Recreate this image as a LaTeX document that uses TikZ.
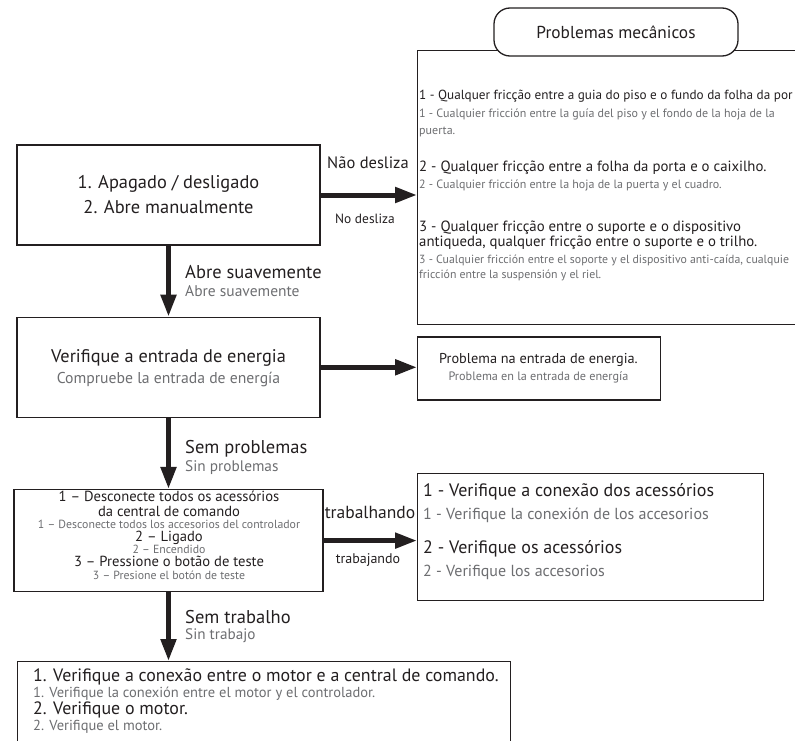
\documentclass[tikz,border=0pt]{standalone}
\usepackage{fontspec}
\setmainfont{PT Sans}
\usetikzlibrary{arrows.meta,positioning}
\definecolor{InkBlack}{HTML}{231F20}
\definecolor{InkGray}{HTML}{6D6E71}
\newcommand\setfs[1]{\fontsize{#1}{#1}\selectfont}

\begin{document}
\begin{tikzpicture}[x=1pt,y=-1pt,
    box/.style={draw=InkBlack,line width=1.3pt,fill=white,inner sep=0pt},
    flow/.style={-{Triangle[length=22pt,width=15pt]},InkBlack,line width=5pt},
    ptline/.style={text=InkBlack,inner sep=0pt},
    esline/.style={text=InkGray,inner sep=0pt},
    ptleft/.style={ptline,anchor=west},
    esleft/.style={esline,anchor=west}]
  \useasboundingbox (0,0) rectangle (795,741);
  \clip (0,0) rectangle (795,741);

  % main column
  \node[box,minimum width=303pt,minimum height=100pt] (apagado) at (168.5,195) {};
  \node[box,minimum width=303pt,minimum height=100pt,below=71pt of apagado] (energia) {};
  \node[box,minimum width=309pt,minimum height=102pt,below=71pt of energia] (acess) {};
  \node[box,minimum width=493pt,minimum height=120pt,anchor=north west] (motor) at (17,661) {};

  % right column
  \node[box,minimum width=450pt,minimum height=274pt,anchor=north west] (mecan) at (417,50) {};
  \node[box,rounded corners=16pt,minimum width=244pt,minimum height=48pt] (mecanTit) at (616,32)
    {\setfs{17.3}\color{InkBlack}Problemas mecânicos};
  \node[box,minimum width=243pt,minimum height=63pt,anchor=west] (falha) at (417,368.5) {};
  \node[box,minimum width=346pt,minimum height=127pt,anchor=west] (conex) at (417,537) {};

  % connectors
  \draw[flow] (apagado.east) -- (mecan.west |- apagado.east);
  \draw[flow] (apagado) -- (energia);
  \draw[flow] (energia.east) -- (falha.west |- energia.east);
  \draw[flow] (energia) -- (acess);
  \draw[flow] (acess.east) -- (conex.west |- acess.east);
  \draw[flow] (acess.south) -- (acess.south |- motor.north);

  % connector labels
  \node[ptline] (naoDesl) at (368,163) {\setfs{16.5}Não desliza};
  \node[ptline] (noDesl) at (365,219) {\setfs{13.4}No desliza};
  \node[ptleft] (abrePt) at (185,272) {\setfs{18.5}Abre suavemente};
  \node[esleft] (abreEs) at (185,291) {\setfs{15.5}Abre suavemente};
  \node[ptleft] (semProbPt) at (185,449) {\setfs{18.5}Sem problemas};
  \node[esleft] (semProbEs) at (185,467.5) {\setfs{15.3}Sin problemas};
  \node[ptleft] (semTrabPt) at (185,617) {\setfs{18.5}Sem trabalho};
  \node[esleft] (semTrabEs) at (185,636) {\setfs{15.2}Sin trabajo};
  \node[ptline] (trabPt) at (370,512) {\setfs{17.5}trabalhando};
  \node[ptline] (trabEs) at (368,560) {\setfs{14}trabajando};

  % box texts
  \node[ptline,align=center,font=\fontsize{18.4}{25}\selectfont] (apagadoTxt) at (apagado)
    {1. Apagado / desligado\\2. Abre manualmente};
  \node[ptline] (energiaPt) at (168.5,358) {\setfs{18.3}Verifique a entrada de energia};
  \node[esline] (energiaEs) at (168.5,380) {\setfs{15.7}Compruebe la entrada de energía};

  \node[ptline] (acessPt1) at (169,496) {\setfs{14.6}1 – Desconecte todos os acessórios};
  \node[ptline] (acessPt1b) at (169,511) {\setfs{14.6}da central de comando};
  \node[esline] (acessEs1) at (169,524.5) {\setfs{11.8}1 – Desconecte todos los accesorios del controlador};
  \node[ptline] (acessPt2) at (169,537.5) {\setfs{14.6}2 – Ligado};
  \node[esline] (acessEs2) at (169,549.5) {\setfs{11.8}2 – Encendido};
  \node[ptline] (acessPt3) at (169,561.5) {\setfs{14.6}3 – Pressione o botão de teste};
  \node[esline] (acessEs3) at (169,575) {\setfs{11.8}3 – Presione el botón de teste};

  \node[ptline] (falhaPt) at (538.5,360) {\setfs{14.3}Problema na entrada de energia.};
  \node[esline] (falhaEs) at (538.5,377) {\setfs{12.2}Problema en la entrada de energía};

  \node[ptleft] (conexPt1) at (423,492) {\setfs{18}1 - Verifique a conexão dos acessórios};
  \node[esleft] (conexEs1) at (423,515) {\setfs{16}1 - Verifique la conexión de los accesorios};
  \node[ptleft] (conexPt2) at (423,549) {\setfs{18}2 - Verifique os acessórios};
  \node[esleft] (conexEs2) at (423,572) {\setfs{16}2 - Verifique los accesorios};

  \node[ptleft] (mecanPt1) at (419,96) {\setfs{13.2}1 - Qualquer fricção entre a guia do piso e o fundo da folha da por};
  \node[esleft,align=left,font=\fontsize{12}{17}\selectfont] (mecanEs1) at (419,123)
    {1 - Cualquier fricción entre la guía del piso y el fondo de la hoja de la\\puerta.};
  \node[ptleft] (mecanPt2) at (419,168) {\setfs{14.8}2 - Qualquer fricção entre a folha da porta e o caixilho.};
  \node[esleft] (mecanEs2) at (419,185) {\setfs{12}2 - Cualquier fricción entre la hoja de la puerta y el cuadro.};
  \node[ptleft,align=left,font=\fontsize{14.8}{13.5}\selectfont] (mecanPt3) at (419,235)
    {3 - Qualquer fricção entre o suporte e o dispositivo\\antiqueda, qualquer fricção entre o suporte e o trilho.};
  \node[esleft,align=left,font=\fontsize{11.8}{14.5}\selectfont] (mecanEs3) at (419,268)
    {3 - Cualquier fricción entre el soporte y el dispositivo anti-caída, cualquie\\fricción entre la suspensión y el riel.};

  \node[ptleft] (motorPt1) at (33,677) {\setfs{17.9}1. Verifique a conexão entre o motor e a central de comando.};
  \node[esleft] (motorEs1) at (33,693.5) {\setfs{14.5}1. Verifique la conexión entre el motor y el controlador.};
  \node[ptleft] (motorPt2) at (33,710) {\setfs{17.9}2. Verifique o motor.};
  \node[esleft] (motorEs2) at (33,727) {\setfs{14.5}2. Verifique el motor.};
\end{tikzpicture}
\end{document}
